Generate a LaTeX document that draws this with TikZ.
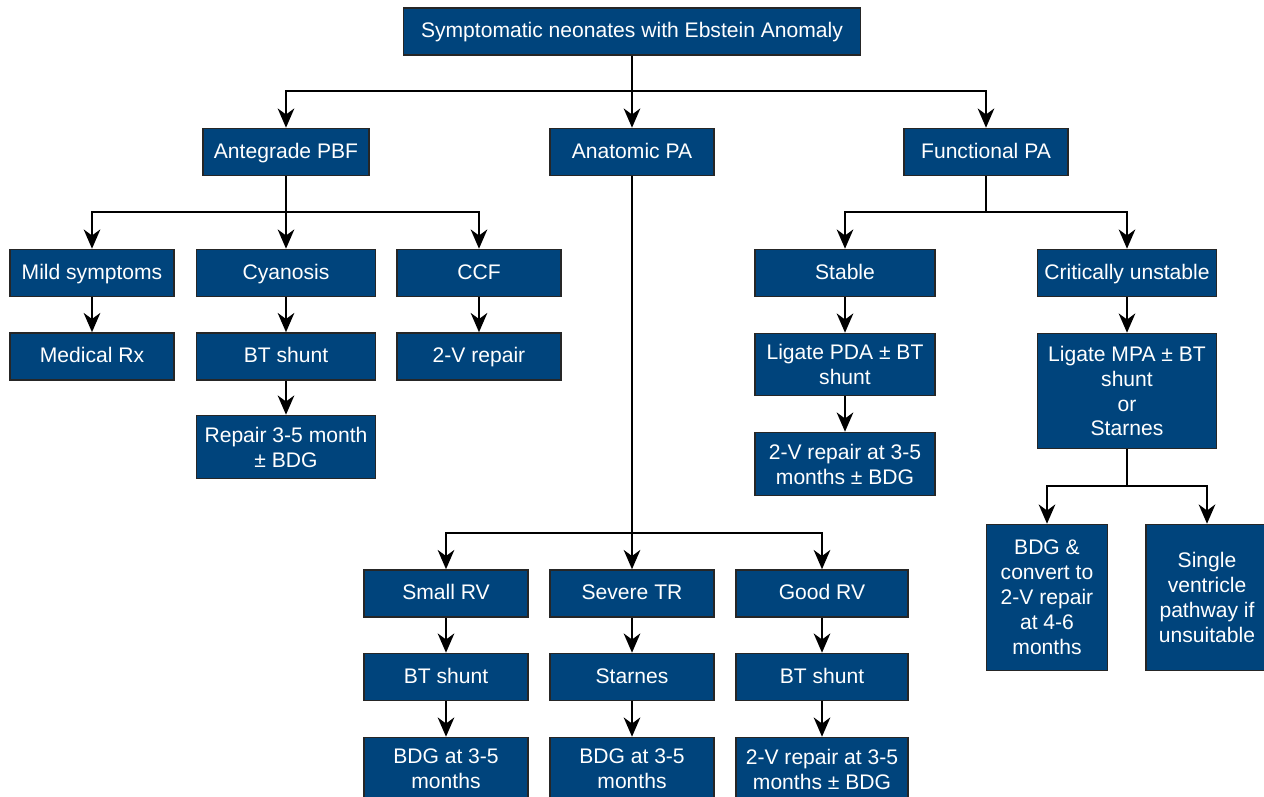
\documentclass[tikz,border=0pt]{standalone}
\usepackage{fontspec}
\setmainfont{Liberation Sans}
\usetikzlibrary{arrows.meta}
\definecolor{ebblue}{RGB}{0,68,124}

\begin{document}
\begin{tikzpicture}[x=0.02cm,y=-0.02cm,
        box/.style={draw=black!85,fill=ebblue,text=white,line width=0.9pt,
          align=center,inner sep=0pt,minimum height=0.94cm,
          font=\fontsize{12}{14.2}\selectfont},
        one/.style={box,text height=0.72em,text depth=0pt},
        arr/.style={line width=1pt,-{Stealth[length=11pt,width=9.5pt,inset=3.5pt]}},
        ln/.style={line width=1pt}]
        \useasboundingbox (0,0) rectangle (1264,797) ;
        % top level
        \node[one,minimum width=9.14cm] (top) at (632,31.5) {Symptomatic neonates with Ebstein Anomaly} ;
        \node[one,minimum width=3.32cm] (ante) at (286,152) {Antegrade PBF} ;
        \node[one,minimum width=3.28cm] (anat) at (632,152) {Anatomic PA} ;
        \node[one,minimum width=3.28cm] (func) at (986,152) {Functional PA} ;
        % antegrade branch
        \node[one,minimum width=3.28cm] (mild) at (92,273) {Mild symptoms} ;
        \node[one,minimum width=3.58cm] (cyan) at (286,273) {Cyanosis} ;
        \node[one,minimum width=3.28cm] (ccf) at (479,273) {CCF} ;
        \node[one,minimum width=3.28cm] (medrx) at (92,356.5) {Medical Rx} ;
        \node[one,minimum width=3.58cm] (btA) at (286,356.5) {BT shunt} ;
        \node[one,minimum width=3.28cm] (twovA) at (479,356.5) {2-V repair} ;
        \node[box,minimum width=3.58cm,minimum height=1.26cm] (repA) at (286,447) {Repair 3-5 month\\± BDG} ;
        % functional branch
        \node[one,minimum width=3.6cm] (stab) at (845,273) {Stable} ;
        \node[one,minimum width=3.58cm] (crit) at (1127,273) {Critically unstable} ;
        \node[box,minimum width=3.6cm,minimum height=1.24cm] (ligpda) at (845,364.5) {Ligate PDA ± BT\\shunt} ;
        \node[box,minimum width=3.6cm,minimum height=1.26cm] (twovF) at (845,464) {2-V repair at 3-5\\months ± BDG} ;
        \node[box,minimum width=3.58cm,minimum height=2.3cm] (ligmpa) at (1127,391) {Ligate MPA ± BT\\shunt\\or\\Starnes} ;
        \node[box,minimum width=2.42cm,minimum height=2.92cm] (bdgconv) at (1047,597.5) {BDG \&\\convert to\\2-V repair\\at 4-6\\months} ;
        \node[box,minimum width=2.44cm,minimum height=2.92cm] (single) at (1207,597.5) {Single\\ventricle\\pathway if\\unsuitable} ;
        % anatomic branch
        \node[one,minimum width=3.28cm] (smrv) at (446,593.5) {Small RV} ;
        \node[one,minimum width=3.28cm] (sevtr) at (632,593.5) {Severe TR} ;
        \node[one,minimum width=3.44cm] (gdrv) at (822,593.5) {Good RV} ;
        \node[one,minimum width=3.28cm] (btS) at (446,677) {BT shunt} ;
        \node[one,minimum width=3.28cm] (starn) at (632,677) {Starnes} ;
        \node[one,minimum width=3.44cm] (btG) at (822,677) {BT shunt} ;
        \node[box,minimum width=3.28cm,minimum height=1.26cm] (bdgS) at (446,769) {BDG at 3-5\\months} ;
        \node[box,minimum width=3.28cm,minimum height=1.26cm] (bdgT) at (632,769) {BDG at 3-5\\months} ;
        \node[box,minimum width=3.44cm,minimum height=1.26cm] (twovG) at (822,769) {2-V repair at 3-5\\months ± BDG} ;
        % junctions
        \coordinate (j0) at (632,91) ;
        \coordinate (j1) at (286,212) ;
        \coordinate (j2) at (986,212) ;
        \coordinate (j3) at (632,533) ;
        \coordinate (j4) at (1127,486) ;
        % connectors
        \draw[ln] (top.south) -- (j0) ;
        \draw[arr] (j0) -| (ante.north) ;
        \draw[arr] (j0) -- (anat.north) ;
        \draw[arr] (j0) -| (func.north) ;
        \draw[ln] (ante.south) -- (j1) ;
        \draw[arr] (j1) -| (mild.north) ;
        \draw[arr] (j1) -- (cyan.north) ;
        \draw[arr] (j1) -| (ccf.north) ;
        \draw[arr] (mild) -- (medrx) ;
        \draw[arr] (cyan) -- (btA) ;
        \draw[arr] (ccf) -- (twovA) ;
        \draw[arr] (btA) -- (repA) ;
        \draw[ln] (func.south) -- (j2) ;
        \draw[arr] (j2) -| (stab.north) ;
        \draw[arr] (j2) -| (crit.north) ;
        \draw[arr] (stab) -- (ligpda) ;
        \draw[arr] (ligpda) -- (twovF) ;
        \draw[arr] (crit) -- (ligmpa) ;
        \draw[ln] (ligmpa.south) -- (j4) ;
        \draw[arr] (j4) -| (bdgconv.north) ;
        \draw[arr] (j4) -| (single.north) ;
        \draw[ln] (anat.south) -- (j3) ;
        \draw[arr] (j3) -| (smrv.north) ;
        \draw[arr] (j3) -- (sevtr.north) ;
        \draw[arr] (j3) -| (gdrv.north) ;
        \draw[arr] (smrv) -- (btS) ;
        \draw[arr] (sevtr) -- (starn) ;
        \draw[arr] (gdrv) -- (btG) ;
        \draw[arr] (btS) -- (bdgS) ;
        \draw[arr] (starn) -- (bdgT) ;
        \draw[arr] (btG) -- (twovG) ;
      \end{tikzpicture}
\end{document}
